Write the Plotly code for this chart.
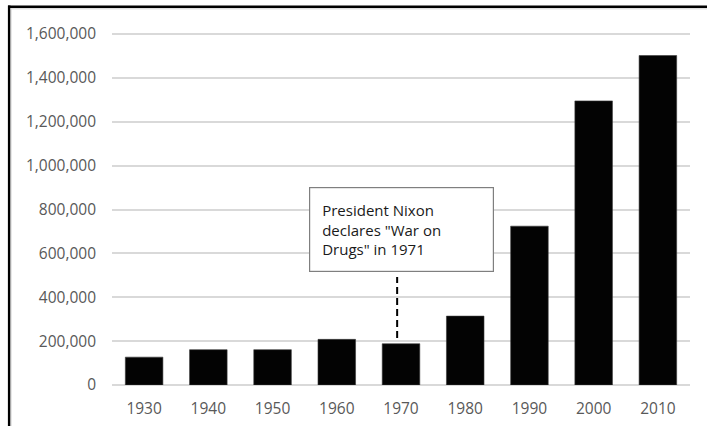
import plotly.graph_objects as go

# ---- data ----
decades = ["1930", "1940", "1950", "1960", "1970", "1980", "1990", "2000", "2010"]
prisoners = [127000, 161000, 161000, 208000, 188000, 314000, 724000, 1295000, 1502000]
y_ticks = [0, 200000, 400000, 600000, 800000, 1000000, 1200000, 1400000, 1600000]
note_text = "President Nixon<br>declares \"War on<br>Drugs\" in 1971"

# ---- layout constants ----
W, H = 707, 426
L, R, T, B = 112, 17, 30, 41
PW, PH = W - L - R, H - T - B
# 0 sits at pixel row 385, 1,600,000 at row 34 -> value per pixel
VPP = 1600000 / 351.0
Y_TOP = PH * VPP

def px_x(p):
    return (p - L) / PW

def px_y(p):
    return (H - B - p) / PH

FONT = "Open Sans"
TICK_COLOR = "#595959"

fig = go.Figure(
    go.Bar(
        x=decades,
        y=prisoners,
        marker=dict(color="#030303", line=dict(color="#3a3a3a", width=0.6)),
        hoverinfo="x+y",
    )
)

fig.update_layout(
    width=W,
    height=H,
    autosize=False,
    margin=dict(l=L, r=R, t=T, b=B, pad=0, autoexpand=False),
    paper_bgcolor="white",
    plot_bgcolor="white",
    bargap=0.415,
    showlegend=False,
    font=dict(family=FONT, size=15, color=TICK_COLOR),
)

fig.update_xaxes(
    type="category",
    range=[-0.5, len(decades) - 0.5],
    automargin=False,
    showgrid=False,
    showline=False,
    zeroline=False,
    ticks="",
    tickfont=dict(family=FONT, size=15.5, color=TICK_COLOR),
    ticklabelstandoff=12,
)

fig.update_yaxes(
    range=[0, Y_TOP],
    automargin=False,
    tickvals=y_ticks,
    tickformat=",d",
    showgrid=True,
    gridcolor="#d9d9d9",
    gridwidth=1.5,
    zeroline=True,
    zerolinecolor="#d9d9d9",
    zerolinewidth=1.5,
    showline=False,
    ticks="",
    tickfont=dict(family=FONT, size=15.5, color=TICK_COLOR),
    ticklabelstandoff=15,
)

# Annotation box
fig.add_annotation(
    x=4,
    xref="x",
    y=709000,
    yref="y",
    text=note_text,
    showarrow=False,
    align="left",
    xanchor="center",
    yanchor="middle",
    width=159,
    height=59,
    borderpad=12,
    borderwidth=1.2,
    bordercolor="#7f7f7f",
    bgcolor="white",
    font=dict(family=FONT, size=15, color="#1a1a1a"),
)

# Dashed connector line
fig.add_shape(
    type="line",
    xref="x",
    yref="y",
    x0=3.94,
    x1=3.94,
    y0=214000,
    y1=492000,
    line=dict(color="black", width=2, dash="7px,4px"),
)

# Frame: black top and left lines, with thin gray inner lines
fig.add_shape(type="line", xref="paper", yref="paper",
              x0=px_x(8), x1=px_x(W + 2), y0=px_y(6.8), y1=px_y(6.8),
              line=dict(color="black", width=2.6))
fig.add_shape(type="line", xref="paper", yref="paper",
              x0=px_x(9.2), x1=px_x(9.2), y0=px_y(5.5), y1=px_y(H + 2),
              line=dict(color="black", width=2.6))
fig.add_shape(type="line", xref="paper", yref="paper",
              x0=px_x(10.5), x1=px_x(W + 2), y0=px_y(8.8), y1=px_y(8.8),
              line=dict(color="#d0d0d0", width=1))
fig.add_shape(type="line", xref="paper", yref="paper",
              x0=px_x(11), x1=px_x(11), y0=px_y(8.5), y1=px_y(H + 2),
              line=dict(color="#d0d0d0", width=1))

fig.write_html(
    "out.html",
    config={"displayModeBar": False},
    post_script="document.body.style.margin='0px';document.body.style.overflow='hidden';",
)
